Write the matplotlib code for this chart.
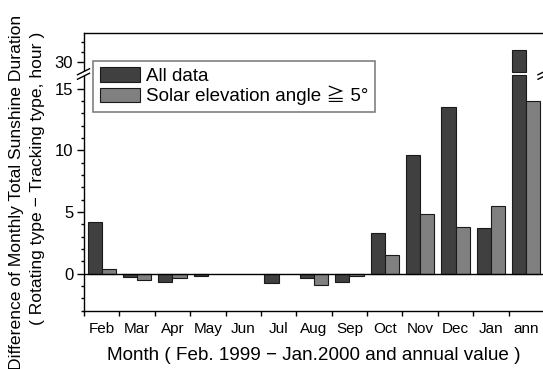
import numpy as np
import matplotlib.pyplot as plt
from matplotlib.patches import Polygon
from matplotlib.lines import Line2D

plt.rcParams['font.family'] = ['Liberation Sans', 'Noto Sans CJK JP', 'DejaVu Sans']

# --- data: rotating minus tracking type, monthly total sunshine duration (hour) ---
months = ['Feb', 'Mar', 'Apr', 'May', 'Jun', 'Jul', 'Aug', 'Sep',
          'Oct', 'Nov', 'Dec', 'Jan', 'ann']
all_data = [4.2, -0.3, -0.7, -0.2, 0.0, -0.8, -0.4, -0.7,
            3.3, 9.6, 13.5, 3.7, 31.2]
solar_5deg = [0.4, -0.5, -0.4, 0.0, 0.0, 0.0, -0.9, -0.2,
              1.5, 4.8, 3.8, 5.5, 14.0]

# broken y axis: values between these two are squeezed into the gap
break_lo, break_hi = 16.1, 29.0
upper_ratio = 0.79   # upper part is drawn a bit tighter than the lower part


def fwd(v):
    v = np.asarray(v, dtype=float)
    gap_top = break_lo + 0.3
    return np.where(v <= break_lo, v,
                    np.where(v < break_hi,
                             break_lo + (v - break_lo) * 0.3 / (break_hi - break_lo),
                             gap_top + (v - break_hi) * upper_ratio))


def inv(p):
    p = np.asarray(p, dtype=float)
    gap_top = break_lo + 0.3
    return np.where(p <= break_lo, p,
                    np.where(p < gap_top,
                             break_lo + (p - break_lo) * (break_hi - break_lo) / 0.3,
                             break_hi + (p - gap_top) / upper_ratio))


W, H = 543, 369
fig = plt.figure(figsize=(W / 100, H / 100), dpi=100)
ax = fig.add_axes([84 / W, 1 - 310.5 / H, 460 / W, (310.5 - 32.7) / H])
ax.set_yscale('function', functions=(fwd, inv))

x = np.arange(len(months)) + 0.5
dark = '#404040'
light = '#808080'
w = 0.4

for i, (a, s) in enumerate(zip(all_data, solar_5deg)):
    if a > break_lo:
        # split the tall bar across the axis break
        ax.bar(x[i] - w / 2, break_lo, w, color=dark, edgecolor='#1a1a1a', lw=0.8)
        ax.bar(x[i] - w / 2, a - break_hi, w, bottom=break_hi,
               color=dark, edgecolor='#1a1a1a', lw=0.8)
    elif a != 0:
        ax.bar(x[i] - w / 2, a, w, color=dark, edgecolor='#1a1a1a', lw=0.8)
    if s != 0:
        ax.bar(x[i] + w / 2, s, w, color=light, edgecolor='#1a1a1a', lw=0.8)

ax.axhline(0, color='black', lw=1.0)

ax.set_xlim(0, len(months))
ax.set_ylim(-3, 33.0)

ax.set_xticks(np.arange(len(months) + 1))
ax.set_xticklabels([])
ax.set_xticks(x, minor=True)
ax.set_xticklabels(months, minor=True, fontsize=11)
ax.tick_params(axis='x', which='major', direction='out', length=3.6, width=1)
ax.tick_params(axis='x', which='minor', length=0, pad=8)

ax.set_yticks([0, 5, 10, 15, 30])
ax.set_yticklabels(['0', '5', '10', '15', '30'], fontsize=12)
ax.set_yticks(list(range(-3, 16)) + [31, 32], minor=True)
ax.tick_params(axis='y', which='major', direction='out', length=4.8, width=1, pad=3)
ax.tick_params(axis='y', which='minor', direction='out', length=2.4, width=1)

for sp in ax.spines.values():
    sp.set_linewidth(1)

fig.text(314 / W, 1 - 356 / H, 'Month ( Feb. 1999 − Jan.2000 and annual value )',
         ha='center', va='center', fontsize=13.6)

fig.text(17 / W, 1 - 192 / H, 'Difference of Monthly Total Sunshine Duration',
         rotation=90, ha='center', va='center', fontsize=12.6)
fig.text(38 / W, 1 - 178 / H, '( Rotating type − Tracking type, hour )',
         rotation=90, ha='center', va='center', fontsize=12.6)

# break marks on the left and right spines
def break_mark(xc, yc):
    dx, dy, gap = 6, 3, 4.5
    to_fig = lambda px, py: (px / W, 1 - py / H)
    poly = [to_fig(xc - dx, yc + dy - gap / 2), to_fig(xc + dx, yc - dy - gap / 2),
            to_fig(xc + dx, yc - dy + gap / 2), to_fig(xc - dx, yc + dy + gap / 2)]
    fig.add_artist(Polygon(poly, closed=True, facecolor='white', edgecolor='none',
                           transform=fig.transFigure, zorder=5))
    for off in (-gap / 2, gap / 2):
        p0 = to_fig(xc - dx, yc + dy + off)
        p1 = to_fig(xc + dx, yc - dy + off)
        fig.add_artist(Line2D([p0[0], p1[0]], [p0[1], p1[1]], color='black', lw=1,
                              transform=fig.transFigure, zorder=6))


break_mark(83.5, 74)
break_mark(544, 74)

handles = [plt.Rectangle((0, 0), 1, 1, facecolor=dark, edgecolor='#1a1a1a', lw=0.8),
           plt.Rectangle((0, 0), 1, 1, facecolor=light, edgecolor='#1a1a1a', lw=0.8)]
leg = ax.legend(handles, ['All data', 'Solar elevation angle ≧ 5°'],
                loc='upper left', bbox_to_anchor=(93 / W, 1 - 60.7 / H),
                bbox_transform=fig.transFigure, borderaxespad=0,
                fontsize=13.5, fancybox=False, framealpha=1, edgecolor='#808080',
                handlelength=2.13, handleheight=0.8, handletextpad=0.34,
                labelspacing=0.05, borderpad=0.35)
leg.get_frame().set_linewidth(1.2)
leg.set_zorder(7)

fig.savefig('out.png', dpi=100)
